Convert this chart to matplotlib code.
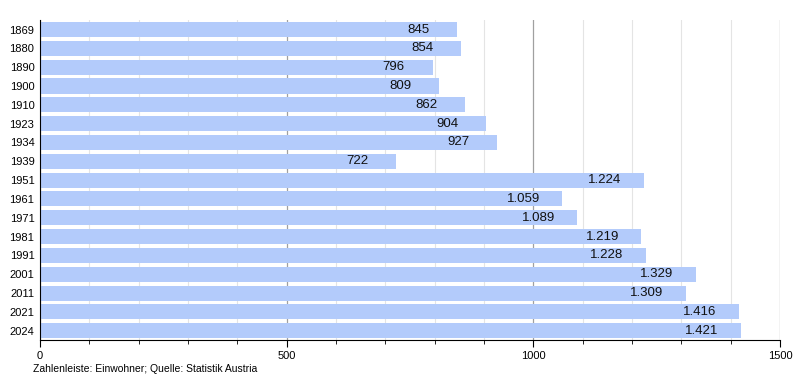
import matplotlib.pyplot as plt
from matplotlib.ticker import MultipleLocator

# Einwohnerentwicklung
jahre = ['1869', '1880', '1890', '1900', '1910', '1923', '1934', '1939',
         '1951', '1961', '1971', '1981', '1991', '2001', '2011', '2021', '2024']
einwohner = [845, 854, 796, 809, 862, 904, 927, 722,
             1224, 1059, 1089, 1219, 1228, 1329, 1309, 1416, 1421]


def fmt(v):
    return f"{v:,}".replace(",", ".")


fig = plt.figure(figsize=(8, 3.8), dpi=100)
ax = fig.add_axes([0.05, 0.105, 0.925, 0.842])

y = list(range(len(jahre)))
ax.barh(y, einwohner, height=0.8, color='#b3cbfb', zorder=2)
for yi, v in zip(y, einwohner):
    ax.annotate(fmt(v), (v, yi), xytext=(-28, 0), textcoords='offset points',
                ha='center', va='center', fontsize=9.5, color='#111111', zorder=3,
                family='Liberation Sans')

ax.set_xlim(0, 1500)
ax.set_ylim(len(jahre) - 0.5, -0.5)
ax.set_yticks(y)
ax.set_yticklabels(jahre)
ax.xaxis.set_major_locator(MultipleLocator(500))
ax.xaxis.set_minor_locator(MultipleLocator(100))
ax.grid(axis='x', which='major', color='#a0a0a0', lw=0.9, zorder=0)
ax.grid(axis='x', which='minor', color='#e4e4e4', lw=0.8, zorder=0)
ax.set_axisbelow(True)

for s in ['top', 'right']:
    ax.spines[s].set_visible(False)
ax.spines['left'].set_color('black')
ax.spines['bottom'].set_color('black')
ax.tick_params(axis='y', length=0, labelsize=8, pad=4)
ax.tick_params(axis='x', which='major', length=5, labelsize=8, direction='out', pad=3)
ax.tick_params(axis='x', which='minor', length=3, direction='out')
for lbl in ax.get_xticklabels() + ax.get_yticklabels():
    lbl.set_family('Liberation Sans')

fig.text(0.041, 0.022, 'Zahlenleiste: Einwohner; Quelle: Statistik Austria',
         fontsize=7.5, family='Liberation Sans')

fig.savefig('out.png', dpi=100)
